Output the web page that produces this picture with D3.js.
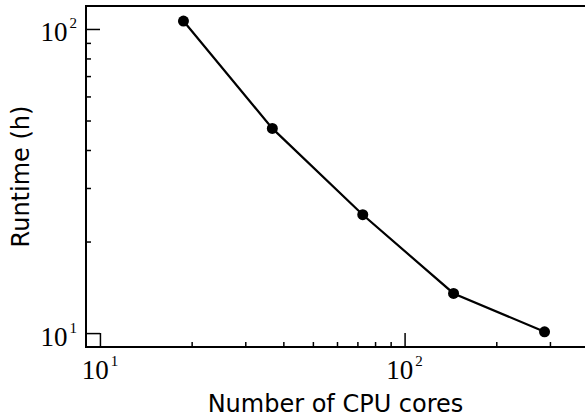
<!DOCTYPE html>
<html>
<head>
<meta charset="utf-8">
<script src="https://cdn.jsdelivr.net/npm/d3@7"></script>
<style>
  html, body { margin: 0; padding: 0; background: #fff; }
  svg { display: block; }
</style>
</head>
<body>
<svg id="chart" width="585" height="418"></svg>
<script>
// ---- data ----
const cores   = [18.8, 36.8, 72.9, 144.8, 288];
const runtime = [106.2, 47.1, 24.5, 13.5, 10.1];
const xMajorTicks = [10, 100];
const xMinorTicks = [20, 30, 40, 50, 60, 70, 80, 90, 200, 300];
const yMajorTicks = [10, 100];
const yMinorTicks = [20, 30, 40, 50, 60, 70, 80, 90];
const xLabel = "Number of CPU cores";
const yLabel = "Runtime (h)";

// ---- layout ----
const M = { left: 86, right: 586, top: 6, bottom: 347 };

const svg = d3.select("#chart");

const x = d3.scaleLog().domain([9.0, 394]).range([M.left, M.right]);
const y = d3.scaleLog().domain([9.0, 119]).range([M.bottom, M.top]);

// frame
svg.append("rect")
  .attr("x", M.left).attr("y", M.top)
  .attr("width", M.right - M.left).attr("height", M.bottom - M.top)
  .attr("fill", "none").attr("stroke", "#000").attr("stroke-width", 2);

// x ticks (inward)
const xMaj = svg.append("g").attr("transform", `translate(0,${M.bottom})`)
  .call(d3.axisBottom(x).tickValues(xMajorTicks).tickSize(-14).tickFormat(""));
const xMin = svg.append("g").attr("transform", `translate(0,${M.bottom})`)
  .call(d3.axisBottom(x).tickValues(xMinorTicks).tickSize(-5).tickFormat(""));
// y ticks (inward)
const yMaj = svg.append("g").attr("transform", `translate(${M.left},0)`)
  .call(d3.axisLeft(y).tickValues(yMajorTicks).tickSize(-14).tickFormat(""));
const yMin = svg.append("g").attr("transform", `translate(${M.left},0)`)
  .call(d3.axisLeft(y).tickValues(yMinorTicks).tickSize(-5).tickFormat(""));
[xMaj, xMin, yMaj, yMin].forEach(g => {
  g.select(".domain").remove();
  g.selectAll(".tick line").attr("stroke", "#000").attr("stroke-width", 1.5);
});

// tick labels: 10^n
function powLabel(sel, v) {
  const e = Math.round(Math.log10(v));
  sel.append("tspan").text("10").attr("font-size", 27);
  sel.append("tspan").text(String(e)).attr("font-size", 15)
    .attr("dx", 2).attr("dy", -13);
}
xMajorTicks.forEach(v => {
  const t = svg.append("text")
    .attr("x", x(v)).attr("y", 379)
    .attr("text-anchor", "middle")
    .attr("font-family", "'Liberation Serif', 'Times New Roman', serif")
    .attr("fill", "#000");
  powLabel(t, v);
});
yMajorTicks.forEach(v => {
  const t = svg.append("text")
    .attr("x", 77).attr("y", y(v) + 12.5)
    .attr("text-anchor", "end")
    .attr("font-family", "'Liberation Serif', 'Times New Roman', serif")
    .attr("fill", "#000");
  powLabel(t, v);
});

// axis titles
svg.append("text")
  .attr("x", (M.left + 585) / 2).attr("y", 412)
  .attr("text-anchor", "middle")
  .attr("font-family", "'DejaVu Sans', sans-serif")
  .attr("font-size", 24).attr("fill", "#000")
  .text(xLabel);
svg.append("text")
  .attr("transform", `translate(28.5,${(M.top + M.bottom) / 2}) rotate(-90)`)
  .attr("text-anchor", "middle")
  .attr("font-family", "'DejaVu Sans', sans-serif")
  .attr("font-size", 24).attr("fill", "#000")
  .text(yLabel);

// data
const pts = cores.map((c, i) => [c, runtime[i]]);
svg.append("path")
  .datum(pts)
  .attr("fill", "none").attr("stroke", "#000").attr("stroke-width", 2.2)
  .attr("d", d3.line().x(d => x(d[0])).y(d => y(d[1])));
svg.selectAll("circle.pt").data(pts).enter().append("circle")
  .attr("class", "pt")
  .attr("cx", d => x(d[0])).attr("cy", d => y(d[1]))
  .attr("r", 5.5).attr("fill", "#000");
</script>
</body>
</html>
